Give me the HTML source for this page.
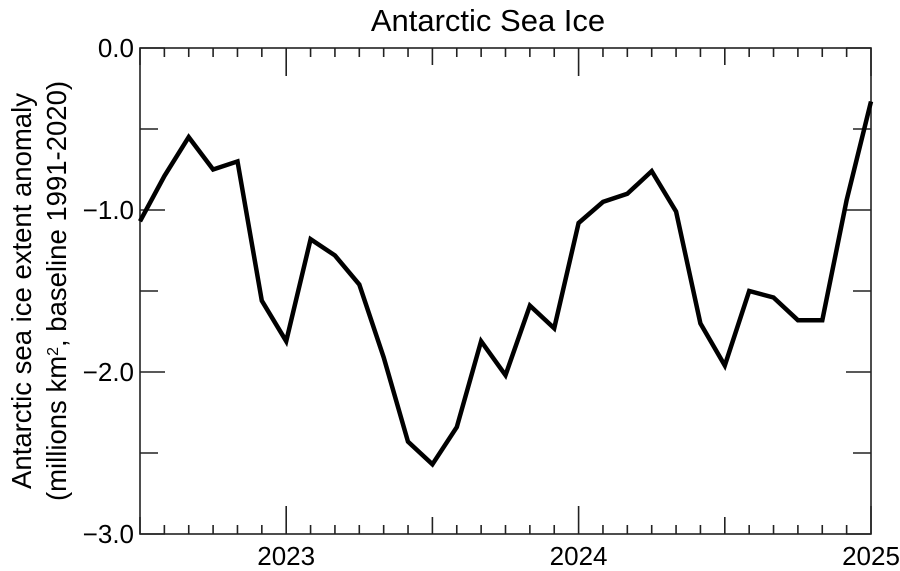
<!DOCTYPE html>
<html><head><meta charset="utf-8"><style>
html,body{margin:0;padding:0;background:#fff;}
svg{display:block;font-family:"Liberation Sans",sans-serif;}
</style></head><body>
<svg id="chart" width="900" height="571">
<text x="488" y="31" font-size="31" text-anchor="middle">Antarctic Sea Ice</text>
<g font-size="27.5" text-anchor="middle">
<text transform="translate(31,291) rotate(-90)">Antarctic sea ice extent anomaly</text>
<text transform="translate(66,291) rotate(-90)">(millions km<tspan baseline-shift="super" font-size="16">2</tspan>, baseline 1991-2020)</text>
</g>
<g id="axes"></g>
<g id="marks"></g>
</svg>
<script>
const startYear = 2022.5;
const values = [-1.07,-0.79,-0.55,-0.75,-0.70,-1.56,-1.81,-1.18,-1.28,-1.46,-1.91,-2.43,-2.57,-2.34,-1.81,-2.02,-1.59,-1.73,-1.08,-0.95,-0.90,-0.76,-1.01,-1.70,-1.96,-1.50,-1.54,-1.68,-1.68,-0.94,-0.33];
const yTicks = [0,-1,-2,-3];
const yTickLabels = ["0.0","\u22121.0","\u22122.0","\u22123.0"];
const xTicks = [2023,2024,2025];
const xTickLabels = ["2023","2024","2025"];

const L=140,R=871,T=48,B=534;
const x0=2022.5,x1=2025.0,y0=-3,y1=0;
const sx=v=>L+(v-x0)/(x1-x0)*(R-L);
const sy=v=>B-(v-y0)/(y1-y0)*(B-T);
const NS="http://www.w3.org/2000/svg";
const axes=document.getElementById('axes'), marks=document.getElementById('marks');
function mk(tag,attrs,parent){const e=document.createElementNS(NS,tag);for(const k in attrs)e.setAttribute(k,attrs[k]);parent.appendChild(e);return e;}

const frame=mk('rect',{x:L,y:T,width:R-L,height:B-T,fill:'none',stroke:'#222','stroke-width':1.6},axes);



for(let v=-3;v<=0.001;v+=0.5){
  const y=sy(v), major=Math.abs(v-Math.round(v))<1e-6, len=major?25:18;
  const t1=mk('line',{x1:L,x2:L+len,y1:y,y2:y,stroke:'#222','stroke-width':1.6},axes);
  
  
  const t2=mk('line',{x1:R-len,x2:R,y1:y,y2:y,stroke:'#222','stroke-width':1.6},axes);
  
  
}
yTicks.forEach((v,i)=>{
  const t=mk('text',{x:L-6,y:sy(v)+9,'font-size':26,'text-anchor':'end'},axes);
  t.textContent=yTickLabels[i];
  
  
});
for(let m=0;m<=30;m++){
  const v=x0+m/12, x=sx(v), major=(m%12===6), half=(m%12===0), len=major?28:(half?17:9);
  const a=mk('line',{x1:x,x2:x,y1:B,y2:B-len,stroke:'#222','stroke-width':1.6},axes);
  
  
  const b=mk('line',{x1:x,x2:x,y1:T,y2:T+len,stroke:'#222','stroke-width':1.6},axes);
  
  
}
xTicks.forEach((v,i)=>{
  const t=mk('text',{x:sx(v),y:B+31,'font-size':26,'text-anchor':'middle'},axes);
  t.textContent=xTickLabels[i];
  
  
});
const pts=values.map((v,i)=>sx(startYear+i/12).toFixed(1)+','+sy(v).toFixed(1)).join(' ');
const line=mk('polyline',{points:pts,fill:'none',stroke:'#000','stroke-width':4.5,'stroke-linejoin':'miter'},marks);


</script>
</body></html>
